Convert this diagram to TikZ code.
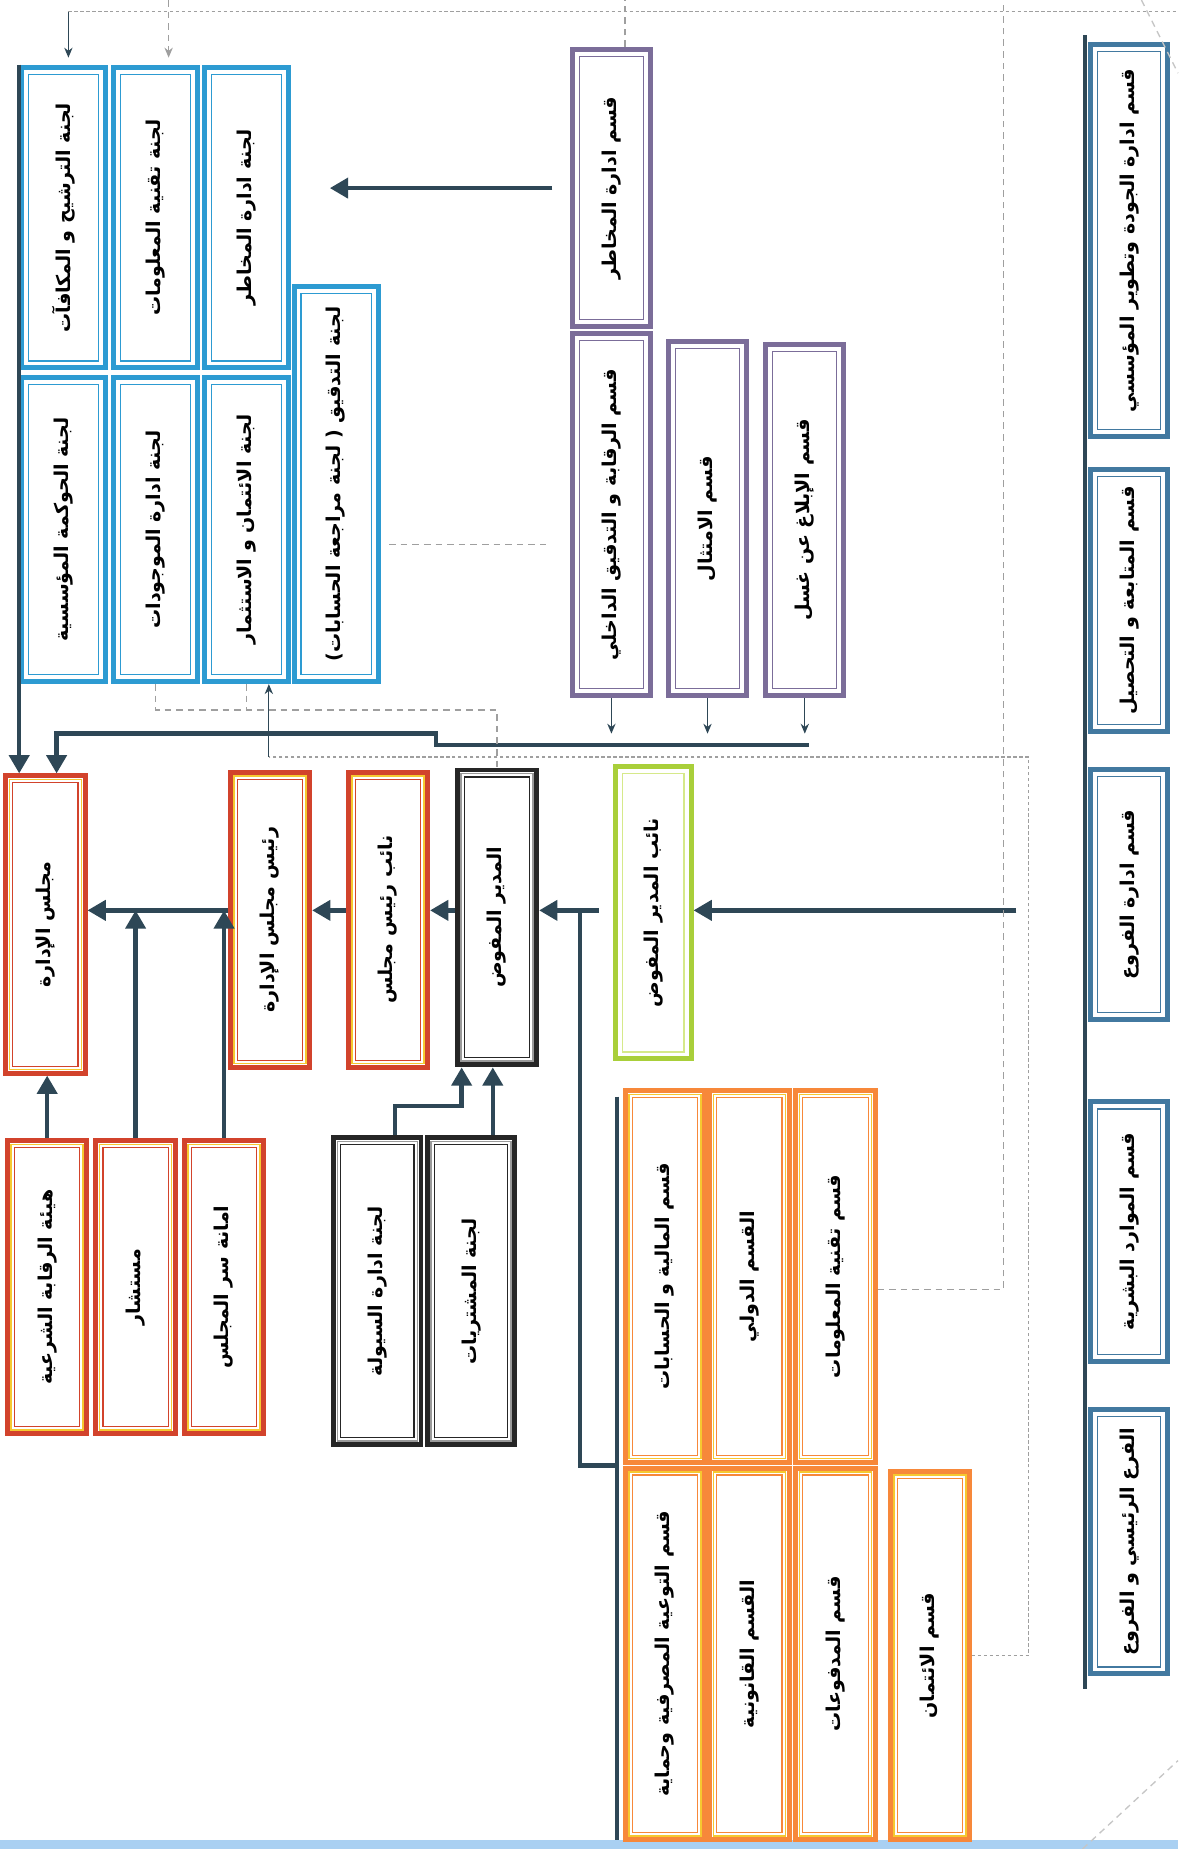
\documentclass[tikz,border=0pt]{standalone}
\usepackage{fontspec}
\usepackage{graphicx}
\usepackage{xcolor}
\usetikzlibrary{arrows.meta, positioning}
\TeXXeTstate=1
\newfontfamily\arabicfont[Script=Arabic]{DejaVu Sans}

\definecolor{wirecol}{HTML}{2E4756}
\definecolor{cblue}{HTML}{2D9BD2}
\definecolor{cpurple}{HTML}{7B6D99}
\definecolor{cteal}{HTML}{4279A0}
\definecolor{cred}{HTML}{D2432C}
\definecolor{cyellow}{HTML}{F6C830}
\definecolor{cblack}{HTML}{262626}
\definecolor{cgrey}{HTML}{9A9A9A}
\definecolor{cgreen}{HTML}{A9CF3A}
\definecolor{cgreenlt}{HTML}{D6E98A}
\definecolor{corange}{HTML}{F7883A}
\definecolor{cbar}{HTML}{A9D0F2}

\newcommand{\vtext}[1]{\rotatebox{90}{\arabicfont\bfseries\fontsize{11.5}{14}\selectfont\beginR #1\endR}}

\tikzset{
  unit/.style n args={3}{draw=#1, line width=3pt, fill=white, inner sep=0pt,
    path picture={
      \draw[#2, line width=1pt] ([shift={(2.2pt,2.2pt)}]path picture bounding box.south west)
        rectangle ([shift={(-2.2pt,-2.2pt)}]path picture bounding box.north east);
      \draw[#3, line width=0.7pt] ([shift={(4.2pt,4.2pt)}]path picture bounding box.south west)
        rectangle ([shift={(-4.2pt,-4.2pt)}]path picture bounding box.north east);
    }},
  bluebox/.style={unit={cblue}{white}{cblue}, minimum width=1.78cm},
  purplebox/.style={unit={cpurple}{white}{cpurple}, minimum width=1.65cm},
  tealbox/.style={unit={cteal}{white}{cteal}, minimum width=1.63cm},
  redbox/.style={unit={cred}{cyellow}{cred}, minimum width=1.68cm},
  blackbox/.style={unit={cblack}{cgrey}{cblack}, minimum width=1.68cm},
  greenbox/.style={unit={cgreen}{white}{cgreenlt}, minimum width=1.6cm},
  orangebox/.style={unit={corange}{cyellow}{corange}, minimum width=1.68cm},
  wire/.style={draw=wirecol, line width=2.6pt},
  flow/.style={wire, -{Triangle[length=11pt, width=12pt]}},
  tick/.style={draw=wirecol, line width=0.7pt, -{Stealth[length=6pt, width=5pt]}},
  dots/.style={draw=gray!75, line width=0.8pt, dash pattern=on 2pt off 1.6pt},
  dashes/.style={draw=gray!75, line width=0.8pt, dash pattern=on 4pt off 3pt}
}

\begin{document}
\begin{tikzpicture}[x=0.025cm, y=-0.025cm]

\useasboundingbox (0,0) rectangle (999,1568);
\fill[white] (0,0) rectangle (999,1568);
\fill[cbar] (0,1560) rectangle (999,1568);

% Board committees
\node[bluebox, minimum height=6.375cm] (nom) at (54,184.5) {\vtext{لجنة الترشيح و المكافآت}};
\node[bluebox, minimum height=6.375cm] (itc) at (132,184.5) {\vtext{لجنة تقنية المعلومات}};
\node[bluebox, minimum height=6.375cm] (rmc) at (209,184.5) {\vtext{لجنة ادارة المخاطر}};
\node[bluebox, minimum height=6.45cm] (gov) at (54,449) {\vtext{لجنة الحوكمة المؤسسية}};
\node[bluebox, minimum height=6.45cm] (alm) at (132,449) {\vtext{لجنة ادارة الموجودات}};
\node[bluebox, minimum height=6.45cm] (cic) at (209,449) {\vtext{لجنة الائتمان و الاستثمار}};
\node[bluebox, minimum height=8.375cm] (aud) at (285,410.5) {\vtext{لجنة التدقيق ( لجنة مراجعة الحسابات)}};

% Control departments
\node[purplebox, minimum height=5.875cm] (rmd) at (518.5,159.5) {\vtext{قسم ادارة المخاطر}};
\node[purplebox, minimum height=7.675cm] (iad) at (518.5,436.5) {\vtext{قسم الرقابة و التدقيق الداخلي}};
\node[purplebox, minimum height=7.5cm] (cmp) at (600,440) {\vtext{قسم الامتثال}};
\node[purplebox, minimum height=7.45cm] (aml) at (682.5,441) {\vtext{قسم الإبلاغ عن غسل}};

% Support departments
\node[tealbox, minimum height=8.3cm] (qdd) at (957.5,204) {\vtext{قسم ادارة الجودة وتطوير المؤسسي}};
\node[tealbox, minimum height=5.55cm] (fcd) at (957.5,509) {\vtext{قسم المتابعة و التحصيل}};
\node[tealbox, minimum height=5.3cm] (brd) at (957.5,758.5) {\vtext{قسم ادارة الفروع}};
\node[tealbox, minimum height=5.5cm] (hrd) at (957.5,1044.5) {\vtext{قسم الموارد البشرية}};
\node[tealbox, minimum height=5.6cm] (mbr) at (957.5,1307.5) {\vtext{الفرع الرئيسي و الفروع}};

% Board and chairmen
\node[redbox, minimum height=6.3cm] (board) at (38.5,784) {\vtext{مجلس الإدارة}};
\node[redbox, minimum height=6.25cm] (chair) at (229,780) {\vtext{رئيس مجلس الإدارة}};
\node[redbox, minimum height=6.25cm] (vchair) at (329,780) {\vtext{نائب رئيس مجلس}};
\node[redbox, minimum height=6.2cm] (shar) at (40,1091.5) {\vtext{هيئة الرقابة الشرعية}};
\node[redbox, minimum height=6.2cm] (adv) at (115,1091.5) {\vtext{مستشار}};
\node[redbox, minimum height=6.2cm] (sec) at (190,1091.5) {\vtext{امانة سر المجلس}};

% Management
\node[blackbox, minimum height=6.25cm] (ceo) at (421.5,778) {\vtext{المدير المفوض}};
\node[blackbox, minimum width=1.85cm, minimum height=6.5cm] (liq) at (320,1095) {\vtext{لجنة ادارة السيولة}};
\node[blackbox, minimum width=1.85cm, minimum height=6.5cm] (pur) at (399.5,1095) {\vtext{لجنة المشتريات}};
\node[greenbox, minimum height=6.2cm] (vceo) at (554,774) {\vtext{نائب المدير المفوض}};

% Executive departments
\node[orangebox, minimum height=7.875cm] (fin) at (564,1082.5) {\vtext{قسم المالية و الحسابات}};
\node[orangebox, minimum height=7.875cm] (intl) at (635.5,1082.5) {\vtext{القسم الدولي}};
\node[orangebox, minimum height=7.875cm] (itd) at (708.5,1082.5) {\vtext{قسم تقنية المعلومات}};
\node[orangebox, minimum height=7.875cm] (awr) at (564,1402.5) {\vtext{قسم التوعية المصرفية وحماية}};
\node[orangebox, minimum height=7.875cm] (leg) at (635.5,1402.5) {\vtext{القسم القانونية}};
\node[orangebox, minimum height=7.875cm] (pay) at (708.5,1402.5) {\vtext{قسم المدفوعات}};
\node[orangebox, minimum height=7.8cm] (crd) at (788.5,1404) {\vtext{قسم الائتمان}};

% Helper coordinates
\coordinate (row) at (0,772);
\coordinate (busR) at (686,632);
\coordinate (busL) at (48,622);
\coordinate (join) at (492,772);
\coordinate (feed) at (862,772);
\coordinate (obusT) at (523,930);
\coordinate (obusB) at (523,1560);
\coordinate (spineT) at (920,30);
\coordinate (spineB) at (920,1432);
\coordinate (crdlink) at (228,642);
\coordinate (audlink) at (330,462);
\coordinate (topL) at (58,10);

% Risk department to committees
\draw[flow] ([xshift=-0.375cm]rmd.west) -- ([xshift=0.825cm]rmc.east |- rmd.west);

% Committees to board
\draw[flow] (nom.north west) -- (nom.north west |- board.north);

% Control departments bus
\foreach \n in {iad, cmp, aml}
  \draw[tick] (\n.south) -- ++(0,30);
\draw[flow] (busR) -- ++(-316,0) -- ++(0,-10) -- (busL) -- (busL |- board.north);

% Chain of command
\draw[flow] (chair.west |- row) -- (board.east |- row);
\draw[flow] (vchair.west |- row) -- (chair.east |- row);
\draw[flow] (ceo.west |- row) -- (vchair.east |- row);
\draw[flow] ([xshift=-0.3cm]vceo.west |- row) -- (ceo.east |- row);
\draw[flow] (feed) -- (vceo.east |- row);
\draw[flow] (adv.north) -- (adv.north |- row);
\draw[flow] (sec.north) -- (sec.north |- row);
\draw[flow] (shar.north) -- (shar.north |- board.south);

% Management committees
\draw[flow] ([xshift=0.375cm]liq.north) -- ++(0,-25) -| ([xshift=-0.75cm]ceo.south);
\draw[flow] ([xshift=0.46cm]pur.north) -- ([xshift=0.46cm]pur.north |- ceo.south);

% Executive departments bus
\draw[wire] (obusT) -- (obusB);
\draw[wire] (obusT |- awr.north) -| (join);

% Support departments spine
\draw[wire] (spineT) -- (spineB);

% Dashed links
\draw[dashes] (alm.south) -- ++(0,22) -| (ceo.north);
\draw[dashes] (cic.south) -- ++(0,22);
\draw[tick] (crdlink) -- (crdlink |- cic.south);
\draw[dots] (crd.east) -- ++(48,0) |- (crdlink);
\draw[dashes] ([yshift=-0.275cm]itd.east) -- ++(107,0) -- ++(0,-1093);
\draw[dashes] (audlink) -- ([xshift=-0.5cm]audlink -| iad.west);
\draw[dots] (topL) -- (999,10);
\draw[tick] (topL) -- ([yshift=0.15cm]topL |- nom.north);
\draw[dashes, -{Stealth[length=6pt, width=5pt]}] ([xshift=0.275cm]itc.north |- 0,0) -- ([yshift=0.15cm,xshift=0.275cm]itc.north);
\draw[dashes] ([xshift=0.29cm]rmd.north) -- ++(0,-42);
\draw[dashes, draw=gray!45] (968,0) -- (999,62);
\draw[dashes, draw=gray!45] (918,1568) -- (999,1493);

\end{tikzpicture}
\end{document}
